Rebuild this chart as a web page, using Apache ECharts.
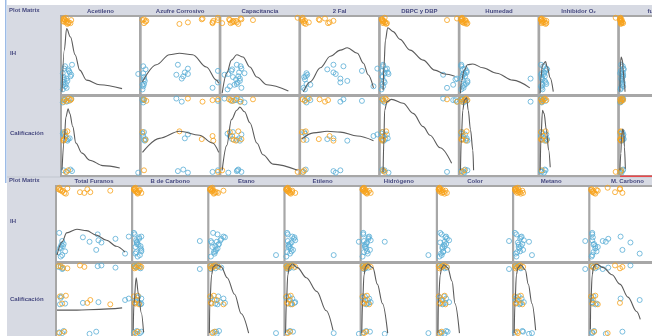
<!DOCTYPE html>
<html>
<head>
<meta charset="utf-8">
<script src="https://cdn.jsdelivr.net/npm/echarts@6/dist/echarts.min.js"></script>
<style>
html,body{margin:0;padding:0;background:#fff;}
#c{width:652px;height:336px;}
</style>
</head>
<body>
<div id="c"></div>
<script>
// Muestras: grupo (naranja = IH alto, azul = IH bajo), IH y Calificación normalizados 0..1
const grupo = ['n','n','n','n','n','n','n','n','n','n','n','n','n','n',
  'a','a','a','a','a','a','a','a','a','a','a','a','a','a','a','a','a','a','a','a'];
const ih = [0.97,0.95,0.93,0.98,0.92,0.96,0.94,0.91,0.97,0.93,0.95,0.99,0.92,0.96,
  0.36,0.30,0.25,0.12,0.20,0.33,0.28,0.22,0.17,0.10,0.06,0.38,0.26,0.15,0.08,0.32,0.19,0.23,0.13,0.27];
const calificacion = [0.97,0.95,0.98,0.94,0.96,0.55,0.45,0.56,0.46,0.50,0.44,0.04,0.06,0.97,
  0.97,0.95,0.98,0.96,0.94,0.52,0.47,0.55,0.44,0.50,0.53,0.05,0.03,0.06,0.04,0.46,0.96,0.07,0.45,0.93];

// Variables (escala normalizada por variable)
const acetileno = [.03,.06,.09,.02,.11,.04,.02,.07,.03,.05,.02,.05,.08,.12, .04,.09,.12,.02,.06,.03,.10,.02,.07,.04,.01,.13,.99,.02,.06,.08,.03,.11,.05,.01];
const azufreCorrosivo = [.03,.06,.60,.79,.92,.01,.05,.49,.78,.92,.93,.99,.03,.99, .02,.99,.45,.01,.52,.60,.56,.03,.04,.02,.01,.47,.60,.99,.92,.05,.03,.54,.03,.02];
const capacitancia = [.10,.15,.20,.25,.12,.11,.16,.22,.26,.14,.19,.99,.01,.41, .25,.13,.04,.17,.24,.26,.23,.15,.24,.11,.08,.20,.09,.21,.26,.14,.19,.22,.20,.30];
const dosFal = [.02,.05,.10,.31,.35,.01,.03,.06,.23,.37,.42,.02,.04,.24, .55,.79,.08,.12,.51,.99,.42,.04,.60,.94,.05,.42,.45,.51,.03,.34,.05,.06,.07,.07];
const dbpcDbp = [.02,.04,.06,.99,.08,.02,.03,.07,.01,.05,.02,.05,.03,.86, .03,.02,.81,.94,.99,.08,.09,.02,.04,.03,.01,.03,.10,.05,.86,.06,.97,.02,.02,.05];
const humedad = [.01,.04,.07,.02,.09,.01,.02,.08,.01,.03,.07,.02,.05,.06, .01,.08,.03,.05,.91,.06,.08,.02,.09,.03,.01,.01,.05,.09,.04,.03,.02,.06,.07,.04];
const inhibidorO2 = [.01,.03,.06,.02,.08,.01,.02,.07,.01,.04,.08,.98,.02,.05, .04,.07,.01,.03,.02,.08,.05,.02,.06,.01,.03,.01,.05,.07,.02,.09,.03,.06,.08,.02];
const furanos = [.01,.04,.08,.02,.10,.01,.02,.03,.01,.05,.03,.02,.04,.06, .09,.03,.10,.06,.04,.11,.09,.08,.06,.10,.02,.04,.05,.09,.03,.12,.07,.10,.08,.01];
const totalFuranos = [.02,.08,.31,.14,.37,.04,.07,.12,.41,.45,.72,.03,.10,.05, .55,.79,.60,.02,.08,.97,.56,.06,.04,.92,.05,.03,.44,.53,.07,.35,.05,.09,.11,.07];
const bCarbono = [.01,.04,.07,.02,.11,.01,.03,.06,.02,.05,.08,.03,.06,.09, .02,.08,.05,.04,.10,.11,.04,.07,.10,.03,.06,.01,.05,.11,.09,.08,.03,.05,.11,.90];
const etano = [.01,.04,.08,.02,.12,.01,.03,.06,.02,.10,.19,.04,.07,.05, .11,.16,.03,.06,.08,.19,.15,.12,.11,.07,.02,.05,.10,.09,.90,.21,.04,.13,.08,.02];
const etileno = [.01,.04,.09,.02,.13,.01,.03,.07,.02,.05,.09,.03,.06,.05, .03,.11,.08,.02,.05,.09,.13,.04,.07,.06,.01,.02,.99,.10,.65,.12,.04,.06,.08,.03];
const hidrogeno = [.01,.04,.08,.02,.12,.01,.03,.07,.02,.05,.10,.03,.06,.05, .02,.09,.07,.03,.05,.10,.12,.04,.06,.08,.01,.02,.31,.11,.90,.09,.04,.06,.07,.03];
const color = [.01,.04,.08,.02,.12,.01,.02,.09,.03,.06,.10,.02,.05,.06, .05,.12,.03,.07,.09,.11,.15,.08,.06,.04,.02,.03,.09,.13,.05,.10,.06,.11,.07,.96];
const metano = [.01,.04,.08,.02,.12,.01,.02,.09,.03,.06,.11,.05,.04,.06, .03,.08,.05,.04,.09,.10,.13,.06,.07,.02,.03,.01,.20,.12,.24,.09,.06,.11,.08,.96];
const mCarbono = [.02,.05,.40,.48,.52,.01,.03,.08,.48,.04,.12,.28,.06,.10, .03,.29,.65,.05,.08,.49,.03,.05,.08,.80,.02,.03,.25,.52,.03,.04,.12,.06,.10,.20];

// Curvas de ajuste [x, y]
const ajusteAcetilenoIH = [[0,.03],[.03,.57],[.06,.85],[.11,.74],[.17,.51],[.23,.31],[.32,.18],[.49,.12],[.78,.07]];
const ajusteAcetilenoCal = [[0,.06],[.03,.45],[.05,.74],[.08,.85],[.1,.79],[.14,.62],[.18,.41],[.26,.28],[.36,.19],[.53,.12],[.75,.09]];
const ajusteAzufreIH = [[.01,.16],[.19,.38],[.36,.51],[.49,.53],[.66,.51],[.84,.35],[.97,.18],[1,.14]];
const ajusteAzufreCal = [[.01,.29],[.23,.47],[.49,.56],[.75,.51],[.92,.41],[1,.29]];
const ajusteCapacitanciaIH = [[.01,.01],[.07,.27],[.13,.44],[.2,.51],[.28,.48],[.37,.35],[.46,.22],[.59,.12],[.87,.04]];
const ajusteCapacitanciaCal = [[.01,.06],[.07,.38],[.13,.71],[.2,.83],[.24,.87],[.3,.81],[.37,.67],[.46,.41],[.54,.26],[.67,.14],[.99,.06]];
const ajusteDosFalIH = [[.03,.03],[.12,.16],[.25,.34],[.38,.49],[.51,.57],[.6,.6],[.73,.53],[.81,.4],[.87,.25],[.94,.08]];
const ajusteDosFalCal = [[.01,.46],[.16,.54],[.34,.56],[.51,.55],[.73,.5],[.94,.44]];
const ajusteDbpcIH = [[.03,.05],[.04,.35],[.06,.7],[.09,.86],[.16,.81],[.25,.71],[.38,.57],[.55,.44],[.7,.31],[.83,.26],[.96,.23]];
const ajusteDbpcCal = [[.03,.04],[.04,.45],[.05,.83],[.08,.94],[.14,.97],[.29,.92],[.42,.79],[.55,.62],[.64,.51],[.77,.35],[.92,.15]];
const ajusteHumedadIH = [[0,.01],[.01,.16],[.05,.31],[.09,.38],[.16,.39],[.29,.34],[.47,.27],[.68,.18],[.9,.08]];
const ajusteHumedadCal = [[0,.06],[.01,.45],[.03,.83],[.05,.96],[.08,.99],[.1,.83],[.13,.58],[.16,.32],[.17,.06]];
const ajusteInhibidorIH = [[0,.01],[.01,.22],[.03,.38],[.07,.42],[.09,.35],[.13,.21],[.17,.03]];
const ajusteInhibidorCal = [[0,.06],[.01,.49],[.03,.83],[.05,.79],[.08,.58],[.11,.32],[.13,.1]];
const ajusteFuranosIH = [[0,.03],[.01,.35],[.04,.48],[.08,.44],[.1,.31],[.14,.14],[.16,.03]];
const ajusteFuranosCal = [[0,.06],[.03,.28],[.05,.49],[.09,.59],[.12,.55],[.14,.36],[.17,.08]];
const ajusteTotalFuranosIH = [[0,.08],[.07,.26],[.13,.38],[.27,.43],[.4,.41],[.53,.35],[.67,.28],[.8,.2],[.92,.12]];
const ajusteTotalFuranosCal = [[0,.36],[.27,.36],[.57,.37],[.88,.39]];
const ajusteBCarbonoCal = [[0,.08],[.01,.45],[.04,.81],[.07,.59],[.11,.32],[.14,.05]];
const ajusteEtanoCal = [[0,.04],[.005,.45],[.03,.85],[.05,.96],[.09,.99],[.16,.96],[.24,.81],[.34,.58],[.43,.31],[.53,.04]];
const ajusteEtilenoCal = [[0,.04],[.01,.45],[.03,.85],[.05,.96],[.09,1],[.16,.95],[.28,.81],[.42,.62],[.55,.35],[.64,.08]];
const ajusteHidrogenoCal = [[0,.04],[.01,.45],[.03,.85],[.05,.96],[.08,1],[.15,.95],[.21,.72],[.28,.45],[.35,.04]];
const ajusteColorCal = [[0,.04],[.005,.45],[.03,.85],[.05,.95],[.08,.99],[.13,.95],[.19,.76],[.23,.45],[.29,.04]];
const ajusteMetanoCal = [[0,.04],[.01,.45],[.03,.85],[.05,.95],[.09,.99],[.15,.92],[.19,.72],[.24,.45],[.29,.08]];
const ajusteMCarbonoCal = [[0,.09],[.005,.45],[.03,.85],[.05,.96],[.09,1],[.21,.95],[.35,.85],[.48,.72],[.61,.54],[.75,.34],[.81,.23]];

const filas = ['IH', 'Calificación'];
const objetivos = [ih, calificacion];

const paneles = [
  {
    vars: [acetileno, azufreCorrosivo, capacitancia, dosFal, dbpcDbp, humedad, inhibidorO2, furanos],
    nombres: ['Acetileno', 'Azufre Corrosivo', 'Capacitancia', '2 Fal', 'DBPC y DBP', 'Humedad', 'Inhibidor O\u2082', 'furanos'],
    ajustes: [
      [ajusteAcetilenoIH, ajusteAcetilenoCal], [ajusteAzufreIH, ajusteAzufreCal],
      [ajusteCapacitanciaIH, ajusteCapacitanciaCal], [ajusteDosFalIH, ajusteDosFalCal],
      [ajusteDbpcIH, ajusteDbpcCal], [ajusteHumedadIH, ajusteHumedadCal],
      [ajusteInhibidorIH, ajusteInhibidorCal], [ajusteFuranosIH, ajusteFuranosCal]
    ],
    y0: 5, x0: 62, paso: 79.7, ancho: 77, filasY: [[17, 77], [97, 78]], cabY: 11, etiquetaY: [54, 134]
  },
  {
    vars: [totalFuranos, bCarbono, etano, etileno, hidrogeno, color, metano, mCarbono],
    nombres: ['Total Furanos', 'B de Carbono', 'Etano', 'Etileno', 'Hidrógeno', 'Color', 'Metano', 'M. Carbono'],
    ajustes: [
      [ajusteTotalFuranosIH, ajusteTotalFuranosCal], [null, ajusteBCarbonoCal],
      [null, ajusteEtanoCal], [null, ajusteEtilenoCal], [null, ajusteHidrogenoCal],
      [null, ajusteColorCal], [null, ajusteMetanoCal], [null, ajusteMCarbonoCal]
    ],
    y0: 177, x0: 57, paso: 76.2, ancho: 74, filasY: [[187, 74], [264, 74]], cabY: 181, etiquetaY: [222, 300]
  }
];

const NARANJA = '#f7a21b';
const AZUL = '#5aaed6';
const TEXTO = '#474a80';
const FONDO = '#d7dae3';
const BORDE = '#a7a7a7';
const FUENTE = 'bold 6px "Liberation Sans", Arial, sans-serif';

const grid = [], xAxis = [], yAxis = [], series = [], graphic = [];

// fondos de los paneles
graphic.push({ type: 'rect', z: -100, shape: { x: 7, y: 5, width: 645, height: 172 }, style: { fill: FONDO } });
graphic.push({ type: 'rect', z: -100, shape: { x: 7, y: 177, width: 645, height: 159 }, style: { fill: FONDO } });
graphic.push({ type: 'rect', z: -99, shape: { x: 5, y: 0, width: 1.5, height: 183 }, style: { fill: '#9dbbe6' } });
graphic.push({ type: 'rect', z: -99, shape: { x: 7, y: 176.5, width: 645, height: 1 }, style: { fill: '#c2c5cf' } });

paneles.forEach(function (p) {
  const ultimaFila = p.filasY[1];
  graphic.push({ type: 'rect', z: -90,
    shape: { x: p.x0 - 2, y: p.filasY[0][0] - 2, width: 660 - p.x0, height: ultimaFila[0] + ultimaFila[1] - p.filasY[0][0] + 4 },
    style: { fill: BORDE } });
  graphic.push({ type: 'text', z: 50, left: 9, top: p.cabY - 4,
    style: { text: 'Plot Matrix', font: FUENTE, fill: TEXTO } });
  filas.forEach(function (f, r) {
    graphic.push({ type: 'text', z: 50, left: 10, top: p.etiquetaY[r] - 4,
      style: { text: f, font: FUENTE, fill: TEXTO } });
  });
  p.vars.forEach(function (xs, k) {
    const left = p.x0 + p.paso * k;
    graphic.push({ type: 'text', z: 50, x: left + p.ancho / 2, y: p.cabY,
      style: { text: p.nombres[k], font: FUENTE, fill: TEXTO, align: 'center', verticalAlign: 'middle' } });
    filas.forEach(function (f, r) {
      const g = grid.length;
      grid.push({ left: left, top: p.filasY[r][0], width: p.ancho, height: p.filasY[r][1],
        show: true, backgroundColor: '#ffffff', borderWidth: 0, containLabel: false });
      xAxis.push({ type: 'value', gridIndex: g, min: 0, max: 1, show: false });
      yAxis.push({ type: 'value', gridIndex: g, min: 0, max: 1, show: false });
      const ys = objetivos[r];
      const azules = [], naranjas = [];
      for (let i = 0; i < xs.length; i++) {
        (grupo[i] === 'a' ? azules : naranjas).push([xs[i], ys[i]]);
      }
      [[azules, AZUL], [naranjas, NARANJA]].forEach(function (d) {
        series.push({ type: 'scatter', xAxisIndex: g, yAxisIndex: g, data: d[0],
          symbol: 'circle', symbolSize: 5, clip: true, silent: true,
          itemStyle: { color: 'rgba(255,255,255,0)', borderColor: d[1], borderWidth: 1 } });
      });
      const curva = p.ajustes[k][r];
      if (curva) {
        series.push({ type: 'line', xAxisIndex: g, yAxisIndex: g, data: curva,
          showSymbol: false, smooth: 0.35, smoothMonotone: 'x', clip: true, silent: true, z: 3,
          lineStyle: { color: '#5b5b5b', width: 1.1 } });
      }
    });
  });
});

// marca roja bajo la última celda superior
graphic.push({ type: 'rect', z: 60, shape: { x: 620, y: 175.5, width: 32, height: 1.5 }, style: { fill: '#e8484a' } });

const chart = echarts.init(document.getElementById('c'), null, { renderer: 'canvas' });
chart.setOption({
  animation: false,
  backgroundColor: '#ffffff',
  grid: grid, xAxis: xAxis, yAxis: yAxis, series: series, graphic: graphic
});
</script>
</body>
</html>
